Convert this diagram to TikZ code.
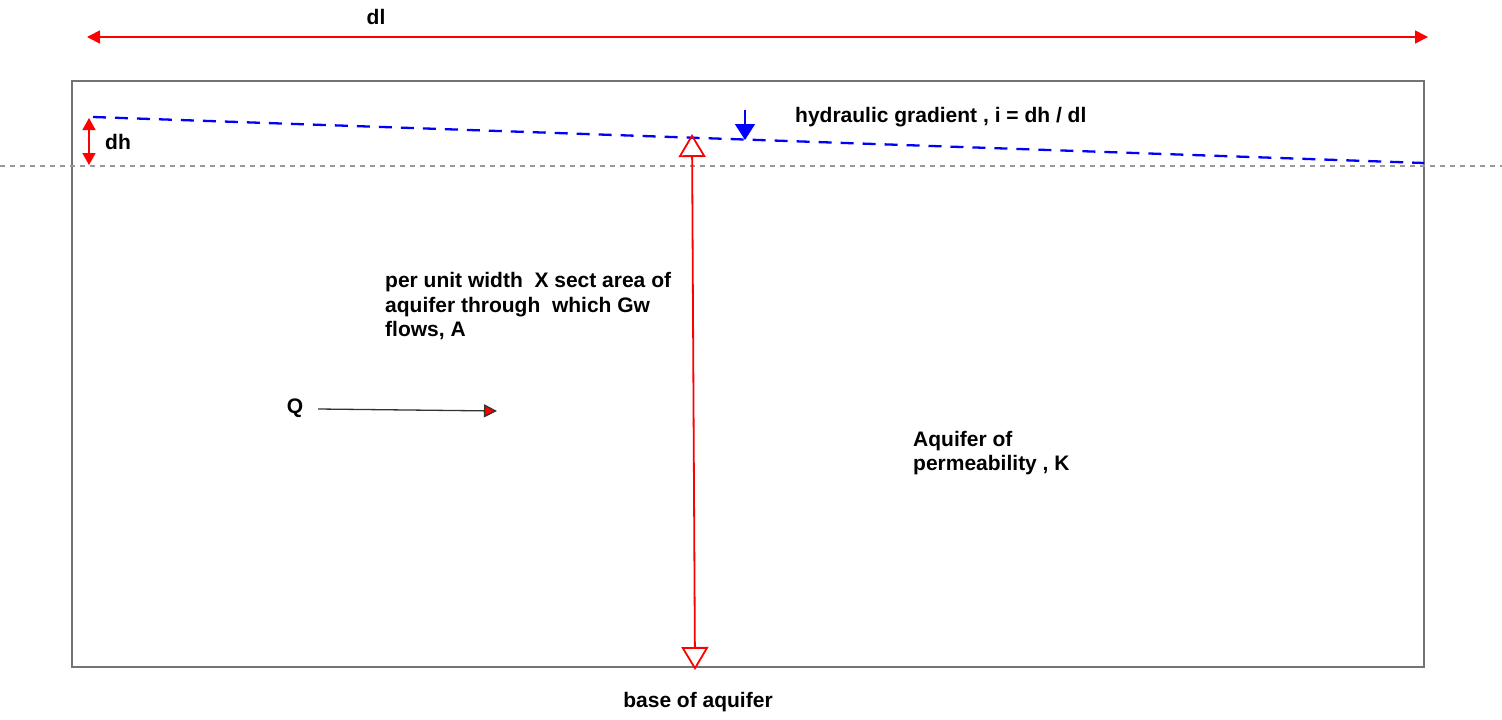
\documentclass[tikz,border=0pt]{standalone}
\usepackage{fontspec}
\setmainfont{Liberation Sans}
\usetikzlibrary{arrows.meta}
\tikzset{
  label text/.style={font=\fontsize{21}{24.5}\selectfont\bfseries, inner sep=0pt},
  red line/.style={red, line width=1.6pt},
}

\begin{document}
\begin{tikzpicture}[x=1pt, y=-1pt]
    \useasboundingbox (0,0) rectangle (1502,720);
    % define points
    % aquifer box
    \coordinate (box_tl) at (72,81);
    \coordinate (box_br) at (1424,667);
    % water table and reference level
    \coordinate (wt_left) at (93,117);
    \coordinate (wt_right) at (1424,163);
    \coordinate (ref_left) at (0,166);
    \coordinate (ref_right) at (1502,166);
    % length and head difference
    \coordinate (dl_left) at (87,37);
    \coordinate (dl_right) at (1428,37);
    \coordinate (dh_top) at (89,118);
    \coordinate (dh_bottom) at (89,165);
    % section through aquifer
    \coordinate (sect_top) at (692,134);
    \coordinate (sect_bottom) at (695,670);
    \coordinate (marker_top) at (745,110);
    \coordinate (marker_tip) at (745,140);
    % flow
    \coordinate (q_start) at (318,409);
    \coordinate (q_end) at (497,411);
    % draw lines
    \draw[gray!110, line width=2.5pt] (box_tl) rectangle (box_br);
    \draw[gray!80, line width=2.2pt, dash pattern=on 5pt off 5pt] (ref_left) -- (ref_right);
    \draw[blue, line width=2.3pt, dash pattern=on 13pt off 9pt] (wt_left) -- (wt_right);
    \draw[red line, {Triangle[length=13pt, width=13pt]}-{Triangle[length=13pt, width=13pt]}] (dl_left) -- (dl_right);
    \draw[red line, {Triangle[length=12pt, width=13pt]}-{Triangle[length=12pt, width=13pt]}] (dh_top) -- (dh_bottom);
    \draw[red, line width=1.8pt, {Triangle[open, length=23pt, width=27pt, line width=1.8pt]}-{Triangle[open, length=23pt, width=27pt, line width=1.8pt]}] (sect_top) -- (sect_bottom);
    \draw[blue, line width=1.6pt, -{Triangle[length=16pt, width=20pt]}] (marker_top) -- (marker_tip);
    \draw[black!80, line width=1.3pt, -{Triangle[length=13pt, width=13pt, fill=red]}] (q_start) -- (q_end);
    % add labels
    \node[label text] (dl_label) at (376,17) {dl};
    \node[label text, anchor=west] (dh_label) at (105,142) {dh};
    \node[label text, anchor=west] (grad_label) at (795,117) {hydraulic gradient , i = dh / dl};
    \node[label text, anchor=north west, align=left] (area_label) at (385,272.5) {per unit width\ \ X sect area of\\aquifer through\ \ which Gw\\flows, A};
    \node[label text] (q_label) at (295,408) {Q};
    \node[label text, anchor=north west, align=left] (perm_label) at (913,431) {Aquifer of\\permeability , K};
    \node[label text] (base_label) at (698,702) {base of aquifer};
\end{tikzpicture}
\end{document}
